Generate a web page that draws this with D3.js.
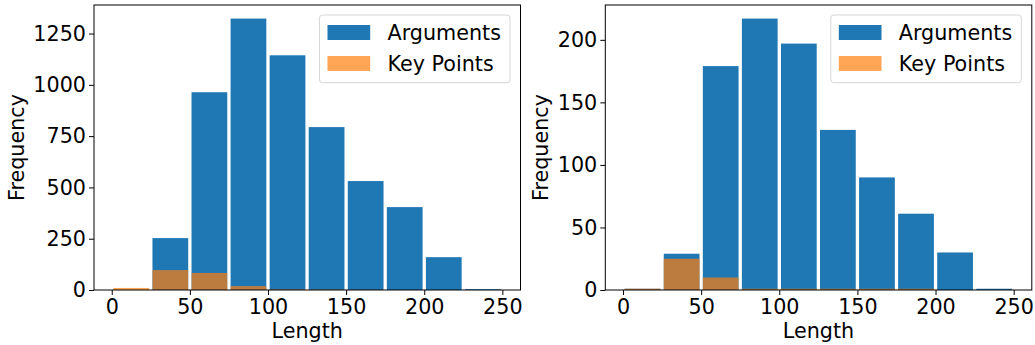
<!DOCTYPE html>
<html>
<head>
<meta charset="utf-8">
<script src="https://cdn.jsdelivr.net/npm/d3@7"></script>
<style>
  html, body { margin: 0; padding: 0; background: #fff; }
  svg { display: block; }
  text { font-family: "DejaVu Sans", sans-serif; fill: #000; }
</style>
</head>
<body>
<script>
// Histogram bin edges (length) shared by both panels
const binEdges = [0, 25, 50, 75, 100, 125, 150, 175, 200, 225, 250];

// Left panel counts per bin
const argumentsLeft = [0, 253, 964, 1323, 1144, 794, 531, 404, 160, 4];
const keyPointsLeft = [10, 97, 83, 19, 3, 2, 1, 0, 0, 0];

// Right panel counts per bin
const argumentsRight = [1, 29, 179, 217, 197, 128, 90, 61, 30, 1];
const keyPointsRight = [1, 25, 10, 1, 1, 1, 1, 1, 0, 0];

const xTicks = [0, 50, 100, 150, 200, 250];
const yTicksLeft = [0, 250, 500, 750, 1000, 1250];
const yTicksRight = [0, 50, 100, 150, 200];

const seriesNames = ["Arguments", "Key Points"];

const W = 1035, H = 345;
const FONT = 20.7;
const BLUE = "#1f77b4", ORANGE = "#ff7f0e";

const svg = d3.select("body").append("svg")
  .attr("width", W).attr("height", H);

function panel(opts) {
  const { left, argCounts, kpCounts, yTicks, yLabelX } = opts;
  const top = 5, bottom = 290, width = 426.5;
  const g = svg.append("g");

  const x = d3.scaleLinear().domain([-11.35, 261.6]).range([left, left + width]);
  const yMax = d3.max(argCounts.concat(kpCounts)) * 1.05;
  const y = d3.scaleLinear().domain([0, yMax]).range([bottom, top]);

  const rwidth = 0.915;
  const bins = d3.range(argCounts.length).map(i => ({
    x0: binEdges[i], x1: binEdges[i + 1]
  }));

  function drawBars(counts, color, opacity) {
    g.append("g").selectAll("rect")
      .data(bins.map((b, i) => ({ ...b, v: counts[i] })))
      .join("rect")
      .attr("x", d => {
        const w = (d.x1 - d.x0) * rwidth;
        return x(d.x0 + (d.x1 - d.x0 - w) / 2);
      })
      .attr("width", d => x(d.x0 + (d.x1 - d.x0) * rwidth) - x(d.x0))
      .attr("y", d => y(d.v))
      .attr("height", d => y(0) - y(d.v))
      .attr("fill", color)
      .attr("fill-opacity", opacity);
  }
  drawBars(argCounts, BLUE, 1);
  drawBars(kpCounts, ORANGE, 0.7);

  // Axes
  const fmt = d3.format("d");
  const xAxis = d3.axisBottom(x).tickValues(xTicks).tickFormat(fmt)
    .tickSize(5).tickSizeOuter(0).tickPadding(4);
  const gx = g.append("g").attr("transform", `translate(0,${bottom})`).call(xAxis);
  gx.select(".domain").remove();
  gx.selectAll("text").attr("font-size", FONT).attr("font-family", "DejaVu Sans").attr("fill", "#000");
  gx.selectAll("line").attr("stroke", "#000").attr("stroke-width", 1);

  const yAxis = d3.axisLeft(y).tickValues(yTicks).tickFormat(fmt)
    .tickSize(5).tickSizeOuter(0).tickPadding(3);
  const gy = g.append("g").attr("transform", `translate(${left},0)`).call(yAxis);
  gy.select(".domain").remove();
  gy.selectAll("text").attr("font-size", FONT).attr("font-family", "DejaVu Sans").attr("fill", "#000");
  gy.selectAll("line").attr("stroke", "#000").attr("stroke-width", 1);

  // Frame
  g.append("rect")
    .attr("x", left).attr("y", top)
    .attr("width", width).attr("height", bottom - top)
    .attr("fill", "none").attr("stroke", "#000").attr("stroke-width", 1);

  // Axis titles
  g.append("text")
    .attr("x", left + width / 2).attr("y", 338)
    .attr("text-anchor", "middle").attr("font-size", FONT)
    .text("Length");
  g.append("text")
    .attr("transform", `translate(${yLabelX},${(top + bottom) / 2}) rotate(-90)`)
    .attr("text-anchor", "middle").attr("font-size", FONT)
    .text("Frequency");

  // Legend
  const lgRight = left + width - 10.5;
  const lgW = 190.5, lgH = 67.7;
  const lg = g.append("g").attr("transform", `translate(${lgRight - lgW},15)`);
  lg.append("rect")
    .attr("x", 0).attr("y", 0).attr("width", lgW).attr("height", lgH)
    .attr("rx", 3).attr("ry", 3)
    .attr("fill", "#fff").attr("fill-opacity", 0.8)
    .attr("stroke", "#d6d6d6").attr("stroke-width", 1);
  const colors = [BLUE, ORANGE], opac = [1, 0.7];
  seriesNames.forEach((name, i) => {
    lg.append("rect")
      .attr("x", 8).attr("y", 10 + i * 31)
      .attr("width", 42.7).attr("height", 15)
      .attr("fill", colors[i]).attr("fill-opacity", opac[i]);
    lg.append("text")
      .attr("x", 68).attr("y", 24.7 + i * 30.8)
      .attr("font-size", FONT)
      .text(name);
  });
}

panel({ left: 94, argCounts: argumentsLeft, kpCounts: keyPointsLeft, yTicks: yTicksLeft, yLabelX: 24 });
panel({ left: 605.3, argCounts: argumentsRight, kpCounts: keyPointsRight, yTicks: yTicksRight, yLabelX: 548 });
</script>
</body>
</html>
